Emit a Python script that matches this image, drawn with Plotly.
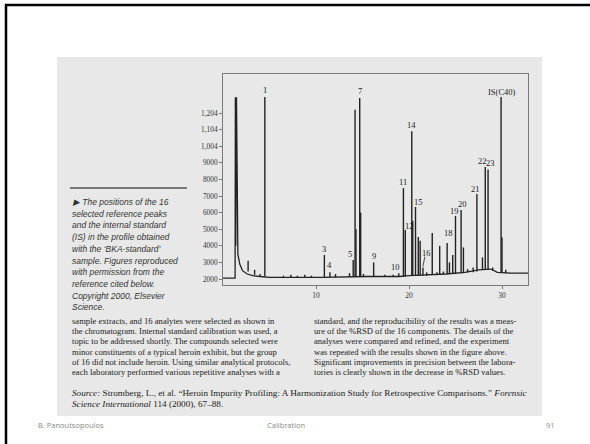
import plotly.graph_objects as go

W, H = 590, 444

# ---- chromatogram data (retention time in min, detector response) ----
trace_t = [0.0, 1.25, 1.3, 1.33, 1.38, 1.45, 1.52, 1.6, 1.8, 2.1, 2.6, 3.2, 4.0, 5.0,
           10.5, 13.5, 15.5, 17.5, 19.0, 20.0, 22.0, 24.0, 26.0, 27.5, 28.8, 29.5, 31.0, 32.8]
trace_v = [2050, 2050, 2050, 12950, 4000, 12950, 4800, 3500, 2900, 2500, 2300, 2200, 2150, 2100,
           2100, 2150, 2150, 2150, 2150, 2200, 2250, 2300, 2400, 2550, 2600, 2400, 2350, 2350]

peak_t = [2.7, 3.4, 4.0, 4.5, 6.5, 7.3, 8.0, 8.8, 9.5, 10.9, 11.5, 12.1, 13.6, 14.0, 14.2, 14.3,
          14.7, 14.8, 15.1, 16.2, 17.4, 18.3, 18.9, 19.4, 19.6, 20.3, 20.4, 20.7, 21.0, 21.2, 21.5,
          21.9, 22.5, 23.0, 23.3, 23.7, 24.1, 24.35, 24.7, 25.0, 25.6, 25.85, 26.3, 26.9, 27.3,
          27.9, 28.2, 28.5, 29.0, 29.9, 30.0, 30.4]
peak_h = [3100, 2550, 2300, 12960, 2200, 2250, 2200, 2250, 2200, 3450, 2400, 2300, 2350, 3150, 12200, 5000,
          12900, 6000, 2300, 3000, 2250, 2250, 2350, 7480, 4950, 10900, 5500, 6340, 4530, 4300, 2700,
          2400, 4770, 2400, 4000, 2450, 4170, 3000, 3450, 5800, 6150, 3900, 2600, 2700, 7120,
          3300, 8750, 8600, 2700, 12960, 4500, 2550]
peak_base = [2450, 2250, 2200, 2150, 2100, 2100, 2100, 2100, 2100, 2100, 2100, 2100, 2150, 2150, 2150, 2150,
             2150, 2150, 2150, 2150, 2150, 2150, 2150, 2150, 2150, 2200, 2200, 2200, 2200, 2200, 2200,
             2200, 2250, 2250, 2250, 2300, 2300, 2300, 2300, 2300, 2350, 2350, 2400, 2400, 2450,
             2550, 2550, 2550, 2500, 2400, 2400, 2350]

label_text = ["1", "3", "4", "5", "7", "9", "10", "11", "12", "14", "15", "16",
              "18", "19", "20", "21", "22", "23", "IS(C40)"]
label_t = [4.5, 10.9, 11.5, 13.7, 14.7, 16.2, 18.6, 19.35, 20.0, 20.3, 21.0, 21.85,
           24.3, 24.85, 25.8, 27.2, 27.85, 28.8, 30.0]
label_v = [13390, 3810, 2840, 3500, 13330, 3390, 2720, 7840, 5190, 11280, 6640, 3570,
           4770, 6100, 6520, 7420, 9110, 8990, 13270]

ytick_vals = [2000, 3000, 4000, 5000, 6000, 7000, 8000, 9000, 10000, 11000, 12000]
ytick_text = ["2000", "3000", "4000", "5000", "6000", "7000", "8000", "9000", "1,004", "1,104", "1,204"]
xtick_vals = [10, 20, 30]

caption_lines = ["\u25B6 The positions of the 16", "selected reference peaks",
                 "and the internal standard", "(IS) in the profile obtained",
                 "with the \u2018BKA-standard\u2019", "sample. Figures reproduced",
                 "with permission from the", "reference cited below.",
                 "Copyright 2000, Elsevier", "Science."]
left_col = ["sample extracts, and 16 analytes were selected as shown in",
            "the chromatogram. Internal standard calibration was used, a",
            "topic to be addressed shortly. The compounds selected were",
            "minor constituents of a typical heroin exhibit, but the group",
            "of 16 did not include heroin. Using similar analytical protocols,",
            "each laboratory performed various repetitive analyses with a"]
right_col = ["standard, and the reproducibility of the results was a meas-",
             "ure of the %RSD of the 16 components. The details of the",
             "analyses were compared and refined, and the experiment",
             "was repeated with the results shown in the figure above.",
             "Significant improvements in precision between the labora-",
             "tories is clearly shown in the decrease in %RSD values."]
source_lines = ["<i>Source:</i> Stromberg, L., et al. \u201cHeroin Impurity Profiling: A Harmonization Study for Retrospective Comparisons.\u201d <i>Forensic</i>",
                "<i>Science International</i> 114 (2000), 67\u201388."]


def px(x):
    return x / W


def py(y):
    return 1 - y / H


fig = go.Figure()

fig.add_trace(go.Scatter(x=trace_t, y=trace_v, mode="lines",
                         line=dict(color="#222222", width=1.3), hoverinfo="skip"))
sx, sy = [], []
for t, h, b in zip(peak_t, peak_h, peak_base):
    sx += [t, t, None]
    sy += [b, h, None]
fig.add_trace(go.Scatter(x=sx, y=sy, mode="lines",
                         line=dict(color="#222222", width=1.4), hoverinfo="skip"))

# leader line for label 16
fig.add_trace(go.Scatter(x=[21.7, 21.5], y=[3350, 2750], mode="lines",
                         line=dict(color="#222222", width=0.8), hoverinfo="skip"))

x0, x1 = 223, 528
y0, y1 = 285, 74
fig.update_layout(
    width=W, height=H, margin=dict(l=0, r=0, t=0, b=0),
    paper_bgcolor="white", plot_bgcolor="rgba(0,0,0,0)", showlegend=False,
    xaxis=dict(domain=[px(x0), px(x1)], range=[0, (x1 - x0) / 9.3], showgrid=False, zeroline=False,
               showline=True, mirror=True, linecolor="#7a7a7a", linewidth=1,
               tickmode="array", tickvals=xtick_vals, ticks="outside", ticklen=3,
               tickcolor="#7a7a7a",
               tickfont=dict(family="Liberation Serif", size=7.5, color="#333333")),
    yaxis=dict(domain=[py(y0), py(y1)],
               range=[2000 - (y0 - 279) / 16.6 * 1000, 2000 + (279 - y1) / 16.6 * 1000],
               showgrid=False, zeroline=False,
               showline=True, mirror=True, linecolor="#7a7a7a", linewidth=1,
               tickmode="array", tickvals=ytick_vals, ticktext=ytick_text,
               ticks="outside", ticklen=3, tickcolor="#7a7a7a",
               tickfont=dict(family="Liberation Serif", size=7.3, color="#333333")),
)

shapes = [
    dict(type="rect", xref="paper", yref="paper", x0=px(57), x1=px(542), y0=py(416), y1=py(57),
         fillcolor="#e8e8e8", line=dict(width=0), layer="below"),
    dict(type="line", xref="paper", yref="paper", x0=px(6), x1=px(6), y0=0, y1=py(4),
         line=dict(color="black", width=2.5)),
    dict(type="line", xref="paper", yref="paper", x0=px(5), x1=1, y0=py(5), y1=py(5),
         line=dict(color="black", width=2.5)),
    dict(type="line", xref="paper", yref="paper", x0=px(70), x1=px(187), y0=py(188), y1=py(188),
         line=dict(color="#555555", width=1.5)),
]
fig.update_layout(shapes=shapes)

ann = []
for s, t, v in zip(label_text, label_t, label_v):
    ann.append(dict(text=s, x=t, y=v, xref="x", yref="y", xanchor="center", yanchor="middle",
                    showarrow=False, font=dict(family="Liberation Serif", size=8.5, color="#222222")))
for i, s in enumerate(caption_lines):
    ann.append(dict(text="<i>" + s + "</i>", x=px(70), y=py(202 + i * 11.7), xref="paper", yref="paper",
                    xanchor="left", yanchor="middle", showarrow=False,
                    font=dict(family="Liberation Sans", size=8.5, color="#333333")))
for i, s in enumerate(left_col):
    ann.append(dict(text=s, x=px(70), y=py(321 + i * 10.2), xref="paper", yref="paper",
                    xanchor="left", yanchor="middle", showarrow=False,
                    font=dict(family="Liberation Serif", size=8.6, color="#222222")))
for i, s in enumerate(right_col):
    ann.append(dict(text=s, x=px(312), y=py(321 + i * 10.2), xref="paper", yref="paper",
                    xanchor="left", yanchor="middle", showarrow=False,
                    font=dict(family="Liberation Serif", size=8.6, color="#222222")))
for i, s in enumerate(source_lines):
    ann.append(dict(text=s, x=px(70), y=py(393 + i * 11), xref="paper", yref="paper",
                    xanchor="left", yanchor="middle", showarrow=False,
                    font=dict(family="Liberation Serif", size=9.2, color="#222222")))
footer = [("B. Panoutsopoulos", 36, "left"), ("Calibration", 286, "center"), ("91", 557, "right")]
for s, x, anc in footer:
    ann.append(dict(text=s, x=px(x), y=py(425), xref="paper", yref="paper",
                    xanchor=anc, yanchor="middle", showarrow=False,
                    font=dict(family="Open Sans", size=7.5, color="#8a8a8a")))
fig.update_layout(annotations=ann)

fig.write_html("out.html", config={"displayModeBar": False},
               post_script="document.body.style.margin='0';document.body.style.overflow='hidden';")
